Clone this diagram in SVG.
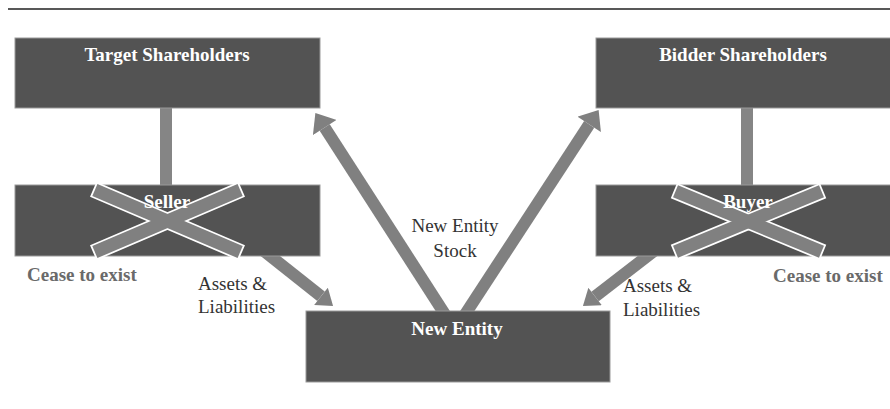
<svg xmlns="http://www.w3.org/2000/svg" width="890" height="409" viewBox="0 0 890 409">
<style>
.box{fill:#535353;stroke:#9a9a9a;stroke-width:1}
.h{font-family:"Liberation Serif","Times New Roman",serif;font-weight:bold;font-size:19px;fill:#ffffff;text-anchor:middle}
.lbl{font-family:"Liberation Serif","Times New Roman",serif;font-size:19px;fill:#333333}
.gone{font-family:"Liberation Serif","Times New Roman",serif;font-weight:bold;font-size:19px;fill:#6a6a6a}
.shaft{stroke:#808080;stroke-width:12;fill:none}
.bar{fill:#858585}
.xo{fill:#808080;stroke:#ffffff;stroke-width:3.5}
.xf{fill:#808080}
</style>
<defs>
<marker id="headBig" markerUnits="userSpaceOnUse" markerWidth="18" markerHeight="28" refX="0" refY="13" orient="auto" viewBox="0 0 16 26">
<path d="M0,0 L16,13 L0,26 z" fill="#808080"/>
</marker>
<marker id="headSm" markerUnits="userSpaceOnUse" markerWidth="16" markerHeight="22" refX="0" refY="10" orient="auto" viewBox="0 0 14 20">
<path d="M0,0 L14,10 L0,20 z" fill="#808080"/>
</marker>
</defs>
<rect width="890" height="409" fill="#ffffff"/>
<line x1="8" y1="9" x2="890" y2="9" stroke="#585858" stroke-width="2"/>

<g id="connectors">
<rect class="bar" x="160" y="107" width="12" height="79"/>
<rect class="bar" x="741" y="107" width="12" height="79"/>
<line class="shaft" x1="446" y1="316" x2="324.7" y2="127.5" marker-end="url(#headBig)"/>
<line class="shaft" x1="464" y1="316" x2="589.2" y2="124.4" marker-end="url(#headBig)"/>
<line class="shaft" x1="264" y1="251" x2="321" y2="296.3" marker-end="url(#headSm)"/>
<line class="shaft" x1="654" y1="251" x2="595.1" y2="296.5" marker-end="url(#headSm)"/>
</g>

<g id="target-shareholders">
<rect class="box" x="15" y="38" width="305" height="70"/>
<text class="h" x="167" y="61">Target Shareholders</text>
</g>
<g id="bidder-shareholders">
<rect class="box" x="596" y="38" width="300" height="70"/>
<text class="h" x="743" y="61">Bidder Shareholders</text>
</g>

<g id="seller">
<rect class="box" x="15" y="185" width="305" height="71"/>
<rect class="xo" x="-79" y="-6.5" width="158" height="13" transform="translate(167.5,221) rotate(23.15)"/>
<rect class="xo" x="-79" y="-6.5" width="158" height="13" transform="translate(167.5,221) rotate(-23.15)"/>
<rect class="xf" x="-79" y="-6.5" width="158" height="13" transform="translate(167.5,221) rotate(23.15)"/>
<rect class="xf" x="-79" y="-6.5" width="158" height="13" transform="translate(167.5,221) rotate(-23.15)"/>
<text class="h" x="167" y="208">Seller</text>
<text class="gone" x="27" y="281">Cease to exist</text>
</g>

<g id="buyer">
<rect class="box" x="596" y="185" width="300" height="71"/>
<rect class="xo" x="-79" y="-6.5" width="158" height="13" transform="translate(748.5,221.5) rotate(22.5)"/>
<rect class="xo" x="-79" y="-6.5" width="158" height="13" transform="translate(748.5,221.5) rotate(-22.5)"/>
<rect class="xf" x="-79" y="-6.5" width="158" height="13" transform="translate(748.5,221.5) rotate(22.5)"/>
<rect class="xf" x="-79" y="-6.5" width="158" height="13" transform="translate(748.5,221.5) rotate(-22.5)"/>
<text class="h" x="748" y="208">Buyer</text>
<text class="gone" x="773" y="282">Cease to exist</text>
</g>

<g id="new-entity">
<rect class="box" x="306" y="311" width="304" height="71"/>
<text class="h" x="457" y="335">New Entity</text>
</g>

<g id="labels">
<text class="lbl" x="198" y="290">Assets &amp;</text>
<text class="lbl" x="198" y="313">Liabilities</text>
<text class="lbl" x="623" y="292">Assets &amp;</text>
<text class="lbl" x="623" y="316">Liabilities</text>
<text class="lbl" x="455" y="232" text-anchor="middle">New Entity</text>
<text class="lbl" x="455" y="257" text-anchor="middle">Stock</text>
</g>
</svg>
